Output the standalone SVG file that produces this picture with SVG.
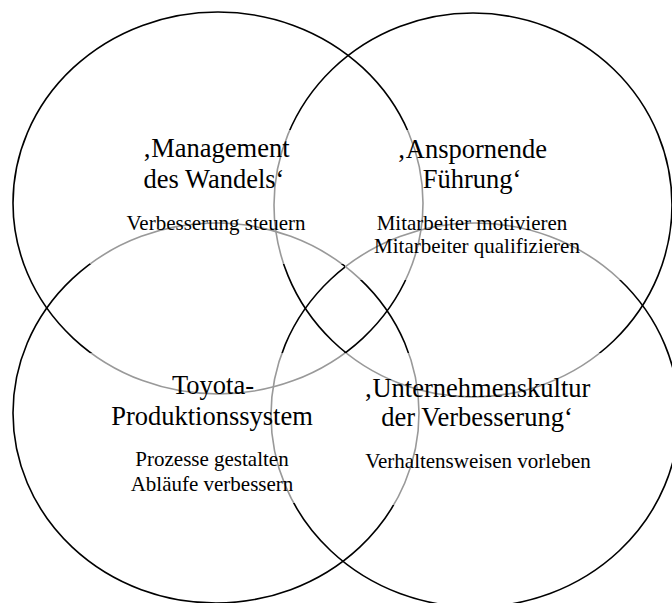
<svg xmlns="http://www.w3.org/2000/svg" width="672" height="603" viewBox="0 0 672 603">
<style>
.c{fill:none;stroke:#000;stroke-width:1.6}
.bx{fill:#fff;fill-opacity:0.6;stroke:none}
.t{font-family:"Liberation Serif","Times New Roman",serif;font-size:26.5px;fill:#000;text-anchor:middle}
.s{font-family:"Liberation Serif","Times New Roman",serif;font-size:21px;fill:#000;text-anchor:middle}
</style>
<rect width="672" height="603" fill="#fff"/>
<g id="circles">
<ellipse id="c-management" class="c" cx="218" cy="203" rx="205" ry="191"/>
<ellipse id="c-fuehrung" class="c" cx="473" cy="205" rx="199" ry="192"/>
<ellipse id="c-tps" class="c" cx="216" cy="413" rx="203" ry="190"/>
<ellipse id="c-kultur" class="c" cx="475" cy="415" rx="204" ry="192"/>
</g>
<g id="node-management">
<rect class="bx" x="90" y="130" width="255" height="134"/>
<text class="t" x="216" y="157">‚Management</text>
<text class="t" x="214" y="188">des Wandels‘</text>
<text class="s" x="216" y="230">Verbesserung steuern</text>
</g>
<g id="node-fuehrung">
<rect class="bx" x="345" y="130" width="287" height="150"/>
<text class="t" x="472" y="158">‚Anspornende</text>
<text class="t" x="472" y="188">Führung‘</text>
<text class="s" x="472" y="230">Mitarbeiter motivieren</text>
<text class="s" x="477" y="253">Mitarbeiter qualifizieren</text>
</g>
<g id="node-tps">
<rect class="bx" x="90" y="353" width="250" height="150"/>
<text class="t" x="213" y="394">Toyota-</text>
<text class="t" x="212" y="425">Produktionssystem</text>
<text class="s" x="212" y="466">Prozesse gestalten</text>
<text class="s" x="212" y="491">Abläufe verbessern</text>
</g>
<g id="node-kultur">
<rect class="bx" x="340" y="353" width="282" height="152"/>
<text class="t" x="477" y="397">‚Unternehmenskultur</text>
<text class="t" x="477" y="426">der Verbesserung‘</text>
<text class="s" x="478" y="468">Verhaltensweisen vorleben</text>
</g>
<g id="connectors"/>
</svg>
